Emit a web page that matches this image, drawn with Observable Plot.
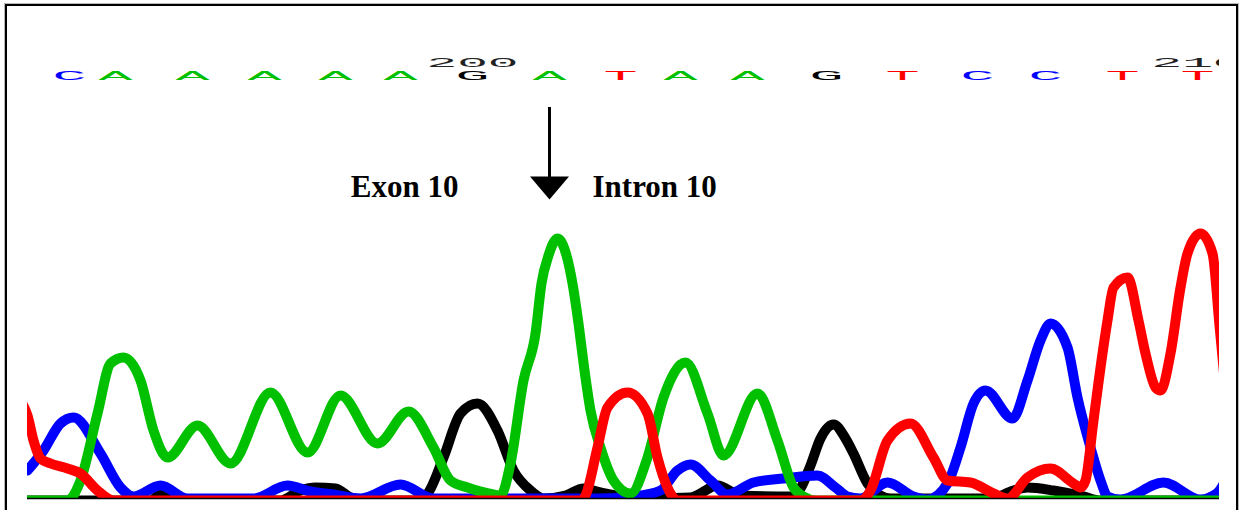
<!DOCTYPE html>
<html><head><meta charset="utf-8">
<script src="https://cdn.jsdelivr.net/npm/d3@7"></script>
<script src="https://cdn.jsdelivr.net/npm/@observablehq/plot@0.6"></script>
<style>
html,body{margin:0;padding:0;background:#fff;overflow:hidden;width:1240px;height:510px;}
#wrap{position:relative;width:1240px;height:510px;}
#wrap svg{position:absolute;left:0;top:0;}
#frame{position:absolute;left:5px;top:4px;width:1229px;height:600px;border:2px solid #000;box-shadow:0 0 0 1px #b8b8b8;pointer-events:none;}
</style></head><body><div id="wrap"><div id="frame"></div></div>
<script>
// ---- base calls (sequence row) ----
const baseCalls   = ["C","A","A","A","A","A","G","A","T","A","A","G","T","C","C","T","T"];
const baseNumbers = [194,195,196,197,198,199,200,201,202,203,204,205,206,207,208,209,210];
const baseScans   = [69,115,192,264,335,400,472,549,620,680,747,826,902,977,1045,1122,1197];
const tickLabels  = ["200","210"];
const tickBases   = [200,210];

// ---- annotation ----
const spliceScan   = 549;
const regionLabels = ["Exon 10","Intron 10"];

// ---- traces: [scan, intensity] ----
const traceA = [[27,0],[67,0],[80,20],[97,87],[110,137],[123,143],[140,120],[153,70],[167,43],[197,75],[230,37],[270,108],[307,48],[340,105],[377,57],[408,89],[433,53],[450,20],[467,13],[493,6],[500,5],[510,37],[523,120],[535,167],[541,217],[548,245],[557,262],[566,245],[572,217],[578,177],[584,130],[590,90],[600,53],[613,20],[630,7],[647,43],[663,103],[685,138],[707,87],[723,45],[757,107],[777,60],[793,13],[803,4],[815,0],[1230,0]];
const traceC = [[27,30],[43,50],[60,77],[73,83],[100,47],[120,13],[133,4],[160,15],[187,2],[253,2],[287,15],[310,9],[333,6],[360,2],[400,16],[433,2],[600,2],[633,4],[660,10],[677,30],[690,36],[710,20],[727,6],[753,18],[783,22],[817,25],[835,13],[847,4],[860,2],[887,18],[913,4],[927,1],[947,17],[960,53],[973,97],[985,110],[1012,82],[1027,120],[1040,160],[1050,177],[1067,153],[1077,103],[1090,53],[1100,20],[1107,4],[1120,1],[1163,18],[1200,1],[1213,5],[1219,10],[1225,20]];
const traceG = [[27,0],[150,0],[160,6],[175,0],[280,0],[300,10],[315,13],[335,12],[350,3],[365,0],[415,0],[427,7],[443,43],[460,87],[477,97],[497,70],[513,30],[530,10],[543,2],[565,5],[583,12],[600,8],[640,2],[690,3],[717,15],[740,5],[790,4],[800,12],[810,35],[820,62],[833,76],[845,62],[853,47],[867,17],[880,5],[890,2],[990,2],[1013,10],[1027,13],[1053,10],[1083,4],[1100,0],[1230,0]];
const traceT = [[20,100],[27,85],[33,60],[40,42],[50,37],[67,32],[80,27],[97,10],[113,0],[580,0],[585,5],[597,53],[607,93],[627,108],[647,87],[657,43],[667,13],[677,0],[860,0],[870,10],[887,60],[910,77],[933,43],[947,20],[970,18],[993,7],[1007,2],[1027,23],[1050,32],[1073,17],[1080,13],[1085,20],[1093,80],[1102,147],[1107,180],[1113,213],[1127,223],[1138,180],[1145,147],[1155,113],[1160,110],[1170,147],[1180,213],[1187,247],[1200,267],[1212,247],[1219,175],[1228,80]];

const channelOrder = [["G",traceG],["C",traceC],["A",traceA],["T",traceT]];
const traces = channelOrder.flatMap(([base, pts]) => pts.map(([scan, intensity]) => ({base, scan, intensity})));

const yDomain = [2, 495];
const downTriangle = {draw(ctx) { ctx.moveTo(-19.5,-11.5); ctx.lineTo(19.5,-11.5); ctx.lineTo(0,11.5); ctx.closePath(); }};

const chart = Plot.plot({
  width: 1240, height: 510,
  marginLeft: 27, marginRight: 21, marginTop: 5, marginBottom: 12,
  x: {domain: [27, 1219], axis: null},
  y: {domain: yDomain, axis: null},
  color: {domain: ["A","C","G","T"], range: ["#00c000","#0000ff","#000000","#ff0000"]},
  marks: [
    Plot.line(traces, {x: "scan", y: "intensity", z: "base", stroke: "base", strokeWidth: 10, curve: "monotone-x", clip: true, strokeLinejoin: "round"}),
    Plot.ruleY([yDomain[0]], {stroke: "#000", strokeWidth: 1.5}),
    Plot.text(baseCalls, {x: (d, i) => baseScans[i], text: d => d, fill: d => d, frameAnchor: "top", dy: 66, fontFamily: "Liberation Mono", fontSize: 12, ariaDescription: "basecalls"}),
    Plot.text(tickLabels, {x: (d, i) => baseScans[baseNumbers.indexOf(tickBases[i])], text: d => d, fill: "#222", frameAnchor: "top", dy: 53, fontFamily: "Liberation Mono", fontSize: 12, clip: true, ariaDescription: "baseticks"}),
    Plot.ruleX([spliceScan], {x: d => d, insetTop: 102, insetBottom: 318, stroke: "#000", strokeWidth: 3}),
    Plot.dot([spliceScan], {x: d => d, frameAnchor: "top", dy: 182.5, symbol: downTriangle, fill: "#000", stroke: null}),
    Plot.text([regionLabels[0]], {x: () => spliceScan, text: d => d, frameAnchor: "top", dy: 169, dx: -91, textAnchor: "end", fontFamily: "Liberation Serif", fontWeight: "bold", fontSize: 31, fill: "#000"}),
    Plot.text([regionLabels[1]], {x: () => spliceScan, text: d => d, frameAnchor: "top", dy: 169, dx: 43, textAnchor: "start", fontFamily: "Liberation Serif", fontWeight: "bold", fontSize: 31, fill: "#000"})
  ]
});
chart.querySelectorAll('g[aria-description="basecalls"] text').forEach(t => { t.setAttribute("textLength", "34"); t.setAttribute("lengthAdjust", "spacingAndGlyphs"); });
chart.querySelectorAll('g[aria-description="baseticks"] text').forEach(t => { t.setAttribute("textLength", "92"); t.setAttribute("lengthAdjust", "spacingAndGlyphs"); });
document.getElementById("wrap").prepend(chart);
</script>
</body></html>
